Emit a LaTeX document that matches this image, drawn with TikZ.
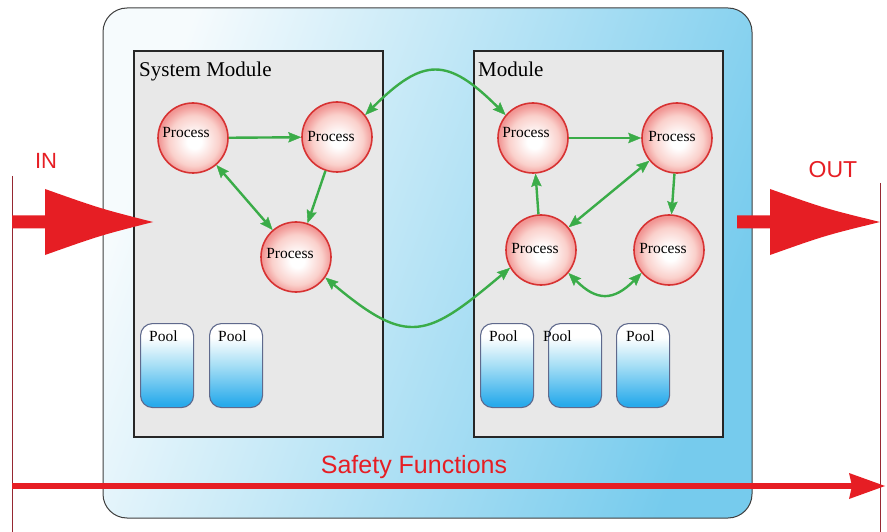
\documentclass[tikz,border=0pt]{standalone}
\usepackage{fontspec}
\setmainfont{Liberation Serif}
\newfontfamily\labelsans{Liberation Sans}
\usetikzlibrary{arrows.meta,calc}

% palette
\definecolor{flowred}{RGB}{230,30,36}
\definecolor{rulered}{RGB}{150,40,50}
\definecolor{linkgreen}{RGB}{58,172,72}
\definecolor{procring}{RGB}{215,50,50}
\definecolor{procmid}{RGB}{250,208,203}
\definecolor{procedge}{RGB}{241,150,148}
\definecolor{poolblue}{RGB}{40,170,235}
\definecolor{poolmid}{RGB}{165,222,245}
\definecolor{poolline}{RGB}{95,105,140}
\definecolor{modfill}{RGB}{232,232,232}
\definecolor{shellL}{RGB}{246,251,253}
\definecolor{shellR}{RGB}{118,203,237}

% white core fading to a pink rim (0..25bp maps to the circle)
\pgfdeclareradialshading{procshade}{\pgfpoint{1bp}{-3bp}}{%
  color(0bp)=(white); color(5bp)=(white); color(18bp)=(procmid);
  color(25bp)=(procedge); color(50bp)=(procedge)}
% white top fading to blue bottom (25bp bottom .. 75bp top)
\pgfdeclareverticalshading{poolshade}{100bp}{%
  color(0bp)=(poolblue); color(27bp)=(poolblue); color(50bp)=(poolmid);
  color(67bp)=(white); color(100bp)=(white)}

\tikzset{
  tipg/.tip={Stealth[length=13pt,width=10.5pt,inset=2pt,line width=0.4pt]},
  link/.style={draw=linkgreen, line width=2.4pt},
  modbox/.style={draw=black!85, line width=1.8pt, fill=modfill, anchor=north west,
    minimum width=249pt, minimum height=386pt, inner sep=0pt},
  modlabel/.style={anchor=base west, font=\fontsize{21}{24}\selectfont, inner sep=0pt},
  proc/.style={circle, minimum size=70pt, inner sep=0pt, draw=procring,
    line width=1.6pt, shade, shading=procshade},
  proctext/.style={font=\fontsize{15.5}{18}\selectfont, inner sep=0pt},
  pool/.style={draw=poolline, line width=1.1pt, rounded corners=12pt, anchor=north west,
    minimum width=53pt, minimum height=84pt, inner sep=0pt, shade, shading=poolshade},
  pooltext/.style={anchor=base west, font=\fontsize{15.5}{18}\selectfont, inner sep=0pt},
  flowtext/.style={text=flowred, font=\labelsans, inner sep=0pt, anchor=base},
}

\begin{document}
\begin{tikzpicture}[x=1pt,y=-1pt]
\useasboundingbox (0,0) rectangle (887,532);
\fill[white] (0,0) rectangle (887,532);

% outer shell
\shade[draw=black!75, line width=1pt, rounded corners=24pt,
  left color=shellL, right color=shellR, shading angle=70]
  (103,8) rectangle (752,518);

% modules
\node[modbox] (sysmod) at (133,50) {};
\node[modbox] (mod) at (473,50) {};
\node[modlabel] (sysmodlabel) at (139,77) {System Module};
\node[modlabel] (modlabel) at (478,77) {Module};

% processes
\node[proc] (p1) at (193,138) {};
\node[proc] (p2) at (337,137) {};
\node[proc] (p3) at (296,257) {};
\node[proc] (p4) at (533,138) {};
\node[proc] (p5) at (677,138) {};
\node[proc] (p6) at (541,250) {};
\node[proc] (p7) at (669,250) {};
\node[proctext] (p1t) at (186,133) {Process};
\node[proctext] (p2t) at (331,137) {Process};
\node[proctext] (p3t) at (290,254) {Process};
\node[proctext] (p4t) at (526,133) {Process};
\node[proctext] (p5t) at (672,137) {Process};
\node[proctext] (p6t) at (535,249) {Process};
\node[proctext] (p7t) at (663,249) {Process};

% links between processes
\draw[link, -tipg] (p1) -- (p2);
\draw[link, -tipg] (p2) -- (p3);
\draw[link, tipg-tipg] (p1) -- (p3);
\draw[link, tipg-tipg] (p2.38) to[out=45, in=135, looseness=1.5] (p4.140);
\draw[link, tipg-tipg] (p3.-35) to[out=-40, in=-140, looseness=1.5] (p6.-150);
\draw[link, -tipg] (p4) -- (p5);
\draw[link, -tipg] (p6) -- (p4);
\draw[link, tipg-tipg] (p6) -- (p5);
\draw[link, -tipg] (p5) -- (p7);
\draw[link, tipg-tipg] (p6.-40) to[out=-45, in=-135, looseness=1.4] (p7.-140);

% pools
\node[pool] (pool1) at (140,323) {};
\node[pool] (pool2) at (209,323) {};
\node[pool] (pool3) at (480,323) {};
\node[pool] (pool4) at (548,323) {};
\node[pool] (pool5) at (616,323) {};
\node[pooltext] (pool1t) at ($(pool1.north west)+(9,18)$) {Pool};
\node[pooltext] (pool2t) at ($(pool2.north west)+(9,18)$) {Pool};
\node[pooltext] (pool3t) at ($(pool3.north west)+(9,18)$) {Pool};
\node[pooltext] (pool4t) at ($(pool4.north west)+(-5,18)$) {Pool};
\node[pooltext] (pool5t) at ($(pool5.north west)+(10,18)$) {Pool};

% boundary rules
\coordinate (inRuleTop) at (12,176);
\coordinate (inRuleBot) at (12,532);
\coordinate (outRuleTop) at (880,183);
\coordinate (outRuleBot) at (880,532);
\draw[rulered, line width=0.9pt] (inRuleTop) -- (inRuleBot);
\draw[rulered, line width=0.9pt] (outRuleTop) -- (outRuleBot);

% IN arrow
\coordinate (inTail) at (12,222);
\coordinate (inTip) at (153,222);
\fill[flowred] ($(inTail)+(0,-6.5)$) -- (45,215.5) -- (45,189)
  .. controls (100,208.5) .. (inTip) .. controls (100,235.5) .. (45,255)
  -- (45,228.5) -- ($(inTail)+(0,6.5)$) -- cycle;
\node[flowtext, font=\labelsans\fontsize{22}{24}\selectfont] (intext) at (46,169) {IN};

% OUT arrow
\coordinate (outTail) at (737,222);
\coordinate (outTip) at (880,222);
\fill[flowred] ($(outTail)+(0,-6.5)$) -- (770,215.5) -- (770,189)
  .. controls (825,208.5) .. (outTip) .. controls (825,235.5) .. (770,255)
  -- (770,228.5) -- ($(outTail)+(0,6.5)$) -- cycle;
\node[flowtext, font=\labelsans\fontsize{23}{25}\selectfont] (outtext) at (833,178) {OUT};

% safety functions arrow
\coordinate (sfStart) at (12,486);
\coordinate (sfEnd) at (885,486);
\draw[flowred, line width=5.5pt,
  -{Stealth[length=36pt,width=26pt,inset=3pt,line width=0pt]}] (sfStart) -- (sfEnd);
\node[flowtext, font=\labelsans\fontsize{25}{27}\selectfont] (sftext) at (414,473) {Safety Functions};
\end{tikzpicture}
\end{document}
